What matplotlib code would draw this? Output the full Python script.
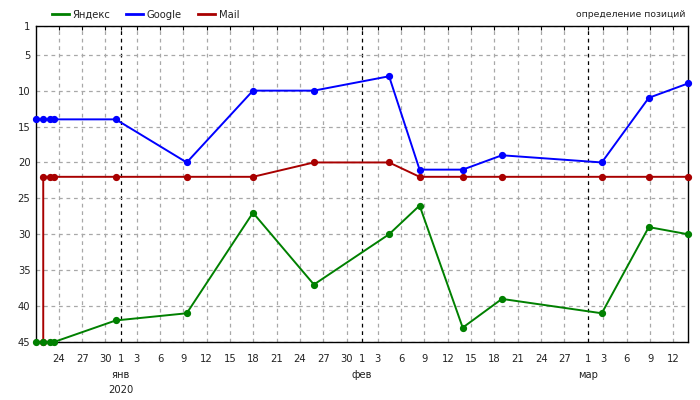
import matplotlib
matplotlib.use("Agg")
import matplotlib.pyplot as plt
import matplotlib.dates as mdates
import matplotlib.transforms as mtransforms
import pandas as pd

# ---- data ----
dates = ["2019-12-21 01:40", "2019-12-22 00:00", "2019-12-22 21:00", "2019-12-23 09:00",
         "2019-12-31 07:40", "2020-01-09 10:40", "2020-01-17 23:00", "2020-01-25 19:00",
         "2020-02-04 10:50", "2020-02-08 09:00", "2020-02-13 22:00", "2020-02-18 23:00",
         "2020-03-02 19:00", "2020-03-08 20:00", "2020-03-13 21:00"]
yandex = [45, 45, 45, 45, 42, 41, 27, 37, 30, 26, 43, 39, 41, 29, 30]
google = [14, 14, 14, 14, 14, 20, 10, 10, 8, 21, 21, 19, 20, 11, 9]
mail_dates = ["2019-12-22 00:00", "2019-12-22 00:00", "2019-12-22 21:00", "2019-12-23 09:00",
              "2019-12-31 07:40", "2020-01-09 10:40", "2020-01-17 23:00", "2020-01-25 19:00",
              "2020-02-04 10:50", "2020-02-08 09:00", "2020-02-13 22:00", "2020-02-18 23:00",
              "2020-03-02 19:00", "2020-03-08 20:00", "2020-03-13 21:00"]
mail = [45, 22, 22, 22, 22, 22, 22, 20, 20, 22, 22, 22, 22, 22, 22]

series_names = ["Яндекс", "Google", "Mail"]
series_colors = ["#008000", "#0000ff", "#a80000"]
y_ticks = [1, 5, 10, 15, 20, 25, 30, 35, 40, 45]
month_labels = [("2020-01-01", "янв"), ("2020-02-01", "фев"), ("2020-03-01", "мар")]
year_label = ("2020-01-01", "2020")
title_right = "определение позиций"

x = pd.to_datetime(dates)
xm = pd.to_datetime(mail_dates)

plt.rcParams['font.family'] = ['DejaVu Sans']
FS = 7.2
TXT = "#222222"

fig = plt.figure(figsize=(7, 4), dpi=100)
ax = fig.add_axes([36/700, 1-342/400, (688-36)/700, (342-26)/400])

lw = 1.4
ms = 4.2
l_mail, = ax.plot(xm, mail, color=series_colors[2], lw=lw, marker="o", ms=ms,
                  clip_on=False, zorder=3, label=series_names[2])
l_google, = ax.plot(x, google, color=series_colors[1], lw=lw, marker="o", ms=ms,
                    clip_on=False, zorder=4, label=series_names[1])
l_yandex, = ax.plot(x, yandex, color=series_colors[0], lw=lw, marker="o", ms=ms,
                    clip_on=False, zorder=5, label=series_names[0])

ax.set_xlim(x[0], x[-1])
ax.set_ylim(45, 1)
ax.set_yticks(y_ticks)

# x ticks: month starts (major), every 3rd day (minor)
ax.xaxis.set_major_locator(mdates.MonthLocator(bymonthday=1))
ax.xaxis.set_minor_locator(mdates.DayLocator(bymonthday=[3, 6, 9, 12, 15, 18, 21, 24, 27, 30]))
ax.xaxis.set_major_formatter(mdates.DateFormatter("%-d"))
ax.xaxis.set_minor_formatter(mdates.DateFormatter("%-d"))

ax.tick_params(axis="x", which="both", pad=9, labelsize=FS, labelcolor=TXT,
               top=True, bottom=False, direction="in", length=3, color="black", width=0.8,
               labelbottom=True, labeltop=False)
ax.tick_params(axis="y", length=0, pad=4, labelsize=FS, labelcolor=TXT)

ax.grid(axis="x", which="minor", color="#a8a8a8", linestyle=(0, (3, 3)), lw=0.9)
ax.grid(axis="x", which="major", color="black", linestyle=(0, (3, 3)), lw=0.9)
ax.grid(axis="y", which="major", color="#a8a8a8", linestyle=(0, (3, 3)), lw=0.9)
ax.set_axisbelow(True)

for s in ax.spines.values():
    s.set_color("black")
    s.set_linewidth(1.0)

trans = mtransforms.blended_transform_factory(ax.transData, ax.transAxes)
for d, lab in month_labels:
    ax.text(mdates.date2num(pd.Timestamp(d)), -33/316, lab, transform=trans,
            ha="center", va="center", fontsize=FS, color=TXT)
ax.text(mdates.date2num(pd.Timestamp(year_label[0])), -48/316, year_label[1], transform=trans,
        ha="center", va="center", fontsize=FS, color=TXT)

fig.legend(handles=[l_yandex, l_google, l_mail], labels=series_names,
           loc="center left", bbox_to_anchor=(52/700, 1-14.5/400), ncol=3, frameon=False,
           fontsize=FS, handlelength=1.65, handletextpad=0.4, columnspacing=1.6,
           borderpad=0, borderaxespad=0, labelcolor=TXT)
for h in fig.legends[0].legend_handles:
    h.set_marker("")
    h.set_linewidth(2)

fig.text(686/700, 1-14.5/400, title_right, ha="right", va="center", fontsize=6.7, color=TXT)

fig.savefig("out.png", dpi=100)
